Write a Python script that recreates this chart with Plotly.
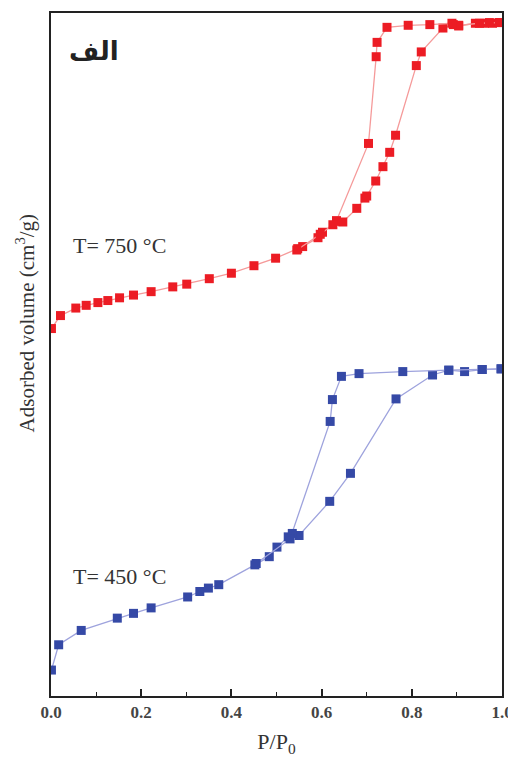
import plotly.graph_objects as go

# Relative pressure P/P0 and adsorbed volume (arbitrary units, stacked curves)
red_ads_x = [0.001, 0.021, 0.055, 0.078, 0.104, 0.126, 0.152, 0.183, 0.222, 0.270, 0.301, 0.351,
             0.400, 0.450, 0.498, 0.547, 0.558, 0.592, 0.602, 0.633, 0.647, 0.678, 0.696, 0.700,
             0.720, 0.736, 0.751, 0.764, 0.810, 0.821, 0.869, 0.892, 0.904, 0.941, 0.961, 0.979, 0.994]
red_ads_y = [53.8, 55.7, 56.8, 57.2, 57.6, 57.9, 58.3, 58.7, 59.2, 59.9, 60.3, 61.1,
             61.9, 63.0, 64.1, 65.5, 65.8, 67.1, 67.9, 69.5, 69.4, 71.4, 72.9, 73.2,
             75.4, 77.5, 79.6, 82.1, 92.3, 94.3, 97.8, 98.3, 98.1, 98.5, 98.5, 98.5, 98.6]

red_des_x = [0.994, 0.972, 0.950, 0.904, 0.889, 0.840, 0.792, 0.745, 0.723, 0.721, 0.704, 0.633,
             0.625, 0.597, 0.545]
red_des_y = [98.6, 98.6, 98.5, 98.2, 98.5, 98.3, 98.2, 97.9, 95.7, 93.6, 80.9, 69.6,
             69.0, 67.6, 65.3]

blue_ads_x = [0.001, 0.017, 0.067, 0.147, 0.183, 0.222, 0.303, 0.330, 0.349, 0.372, 0.452, 0.484,
              0.501, 0.526, 0.550, 0.618, 0.664, 0.765, 0.846, 0.882, 0.917, 0.956, 0.998]
blue_ads_y = [3.8, 7.5, 9.6, 11.4, 12.1, 12.9, 14.5, 15.3, 15.8, 16.3, 19.2, 20.4,
              21.8, 23.3, 23.5, 28.5, 32.6, 43.5, 47.0, 47.7, 47.5, 47.8, 47.9]

blue_des_x = [0.998, 0.956, 0.882, 0.780, 0.683, 0.644, 0.624, 0.619, 0.535, 0.530, 0.455]
blue_des_y = [47.9, 47.8, 47.7, 47.5, 47.2, 46.8, 43.4, 40.2, 23.8, 23.0, 19.4]

tick_vals = [0.0, 0.2, 0.4, 0.6, 0.8, 1.0]
tick_text = ["0.0", "0.2", "0.4", "0.6", "0.8", "1.0"]

RED = "#ec1c24"
RED_LINE = "#f59a9a"
BLUE = "#3549a6"
BLUE_LINE = "#9ea3dd"

fig = go.Figure()
for xs, ys, mc, lc in [(red_ads_x, red_ads_y, RED, RED_LINE),
                       (red_des_x, red_des_y, RED, RED_LINE),
                       (blue_ads_x, blue_ads_y, BLUE, BLUE_LINE),
                       (blue_des_x, blue_des_y, BLUE, BLUE_LINE)]:
    fig.add_trace(go.Scatter(x=xs, y=ys, mode="lines+markers",
                             line=dict(color=lc, width=1.3),
                             marker=dict(symbol="square", size=9, color=mc),
                             showlegend=False, cliponaxis=True))

serif = "Liberation Serif, Times New Roman, serif"

# page body has an 8px margin all round: keep figure + margins within 516x765
fig.update_layout(
    width=508, height=749,
    margin=dict(l=43, r=13, t=3, b=52),
    paper_bgcolor="white", plot_bgcolor="white",
    font=dict(family=serif, color="#333333"),
    xaxis=dict(range=[0, 1.0], tickvals=tick_vals, ticktext=tick_text,
               ticks="inside", ticklen=7, tickwidth=1.5, tickcolor="#222",
               minor=dict(ticks="inside", ticklen=4, dtick=0.1, tickwidth=1.2, tickcolor="#222"),
               showline=True, linecolor="#222", linewidth=2, mirror=True,
               showgrid=False, zeroline=False,
               tickfont=dict(family=serif, size=17, color="#444444", weight="bold"),
               title=dict(text="P/P<sub>0</sub>", font=dict(family=serif, size=22, color="#333"),
                          standoff=16)),
    yaxis=dict(range=[0, 100], showticklabels=False, ticks="",
               showline=True, linecolor="#222", linewidth=2, mirror=True,
               showgrid=False, zeroline=False),
    annotations=[
        dict(text="Adsorbed volume (cm<sup>3</sup>/g)", xref="paper", yref="paper",
             x=-0.057, y=0.546, xanchor="center", yanchor="middle", textangle=-90,
             showarrow=False, font=dict(family=serif, size=21, color="#333")),
        dict(text="T= 750 °C", xref="x", yref="y", x=0.045, y=66.0, xanchor="left",
             showarrow=False, font=dict(family=serif, size=22, color="#333")),
        dict(text="T= 450 °C", xref="x", yref="y", x=0.045, y=17.5, xanchor="left",
             showarrow=False, font=dict(family=serif, size=22, color="#333")),
        dict(text="الف", xref="x", yref="y", x=0.036, y=94.6, xanchor="left",
             showarrow=False, font=dict(family="Noto Sans, DejaVu Sans", size=26, color="#222", weight="bold")),
    ],
)

fig.write_html("out.html")
